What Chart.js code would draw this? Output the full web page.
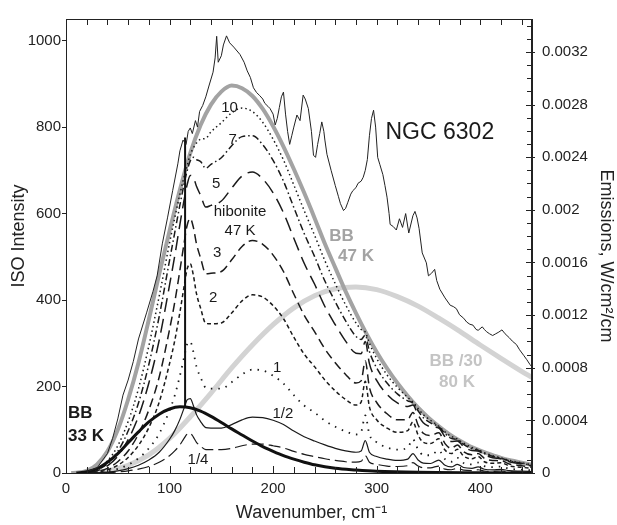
<!DOCTYPE html>
<html>
<head>
<meta charset="utf-8">
<script src="https://cdn.jsdelivr.net/npm/chart.js@4.4.0/dist/chart.umd.min.js"></script>
<style>
  html, body { margin: 0; padding: 0; background: #fff; }
  #wrap { width: 617px; height: 525px; }
</style>
</head>
<body>
<div id="wrap"><canvas id="chart" width="617" height="525"></canvas></div>
<script>
// ------------------------------
// Data
// ------------------------------
// NGC 6302 ISO spectrum (thin noisy line)
const ngcWave = [
  20, 30, 40, 45, 50, 55, 60, 65, 70, 78,
  84, 88, 93, 98, 103, 108, 110, 113, 116, 118,
  120, 122, 125, 127, 129, 132, 135, 138, 142, 144,
  145.5, 147, 150, 152, 155, 158, 162, 168, 172, 175,
  178, 181, 184, 187, 190, 192, 195, 197, 200, 202,
  204, 206, 208, 210, 212, 214, 216, 218, 220, 223,
  226, 229, 231, 234, 237, 239, 241, 243, 245, 247,
  249, 250, 252, 256, 260, 263, 265, 268, 270, 272,
  275, 277, 280, 282, 285, 287, 289, 291, 293, 295,
  297, 299, 301, 303, 306, 308, 310, 312, 313, 316,
  319, 322, 325, 328, 331, 335, 337, 339, 341, 344,
  348, 350, 353, 356, 358, 361, 366, 371, 374, 377,
  380, 384, 387, 390, 393, 396, 398, 402, 404, 406,
  409, 412, 415, 418, 421, 424, 428, 431, 435, 438,
  442, 445, 448, 450
];
const ngcFlux = [
  3, 12, 45, 80, 125, 180, 215, 258, 310, 372,
  420, 456, 530, 590, 653, 715, 745, 770, 760, 790,
  798, 785, 815, 800, 836, 850, 870, 895, 927, 960,
  1010, 950, 965, 990, 1011, 995, 985, 968, 950, 930,
  915, 891, 880, 873, 865, 855, 848, 843, 830, 805,
  820, 845, 870, 881, 830, 790, 760, 780, 800, 828,
  815, 874, 865, 843, 790, 735, 730, 760, 785, 812,
  790, 770, 737, 700, 665, 640, 623, 607, 612, 625,
  645, 653, 660, 670, 675, 684, 700, 725, 780, 820,
  839, 800, 730, 714, 690, 665, 638, 600, 575, 570,
  562, 588, 568, 600, 555, 595, 605, 590, 565, 509,
  486, 456, 462, 471, 445, 425, 405, 388, 385, 380,
  366, 358, 349, 344, 342, 332, 330, 338, 332, 327,
  322, 318, 322, 326, 331, 322, 313, 305, 297, 285,
  272, 262, 251, 245
];

// vertical step in the spectrum near 115 cm-1
const stepWave = [115, 115];
const stepFlux = [152, 776];

// blackbody curves
const bb47Wave = [5, 10, 20, 30, 40, 50, 60, 70, 80, 90, 100, 110, 120, 130, 140, 150, 160, 170, 180, 190,
  200, 210, 220, 230, 240, 250, 260, 270, 280, 290, 300, 310, 320, 330, 340, 350, 360, 370, 380, 390,
  400, 410, 420, 430, 440, 450];
const bb47Flux = [0, 0.5, 5, 20, 50, 100, 170, 255, 355, 460, 560, 655, 740, 805, 852, 882, 896, 890, 872, 842,
  802, 755, 703, 648, 590, 530, 475, 420, 370, 323, 280, 242, 208, 178, 151, 128, 108, 90, 75, 62,
  52, 43, 35, 29, 24, 19];

const bb80Wave = [20, 40, 60, 80, 100, 120, 140, 160, 180, 200, 220, 240, 260, 280, 300, 320, 340, 360, 380, 400, 420, 440, 450];
const bb80Flux = [0, 5, 18, 42, 80, 130, 185, 243, 296, 343, 382, 410, 426, 430, 424, 408, 386, 358, 328, 296, 265, 235, 221];

const bb33Wave = [10, 20, 30, 40, 50, 60, 70, 80, 90, 100, 110, 120, 130, 140, 150, 160, 170, 180, 190, 200,
  210, 220, 230, 240, 260, 280, 300, 340, 400, 450];
const bb33Flux = [0, 3, 10, 25, 45, 70, 95, 118, 136, 148, 153, 151, 143, 131, 117, 102, 88, 74, 61, 50,
  40, 32, 25, 19, 11, 7, 4, 1.5, 0.5, 0];

// hibonite 47 K models, one grid for all of them
const hibWave = [
  20, 30, 40, 50, 60, 70, 80, 90, 100,
  105, 110, 114, 117, 120, 123, 126, 130, 135, 140,
  150, 160, 170, 180, 190, 200, 210, 220, 230, 240,
  250, 260, 270, 280, 285, 289, 293, 300, 310, 320,
  330, 335, 340, 345, 352, 360, 366, 372, 378, 384,
  392, 398, 404, 412, 420, 428, 440, 450
];
const hibQuarter = [
  0.05, 0.3, 1, 2.5, 5, 9, 15, 25, 40,
  51, 65, 80, 90, 92, 83, 71, 62, 54, 54,
  54, 57, 63, 67, 67, 63, 58, 50, 43, 38,
  33, 29, 26, 25, 27, 40, 25, 20, 16, 15,
  17, 24, 16, 12, 12, 16, 9, 7.5, 11, 6.7,
  5.7, 7.5, 4.6, 3.9, 4.6, 2.9, 2.3, 1.8
];
const hibHalf = [
  0.1, 0.6, 2, 4.9, 10, 18, 30, 48, 78,
  98, 124, 150, 169, 172, 156, 135, 119, 105, 104,
  104, 112, 123, 129, 128, 122, 112, 97, 84, 74,
  65, 57, 51, 48, 51, 75, 48, 38, 32, 29,
  32, 45, 30, 23, 22, 30, 18, 14, 20, 12.7,
  10.9, 14, 8.7, 7.4, 8.5, 5.4, 4.3, 3.4
];
const hib1 = [
  0.2, 1.2, 3.8, 9.5, 19, 34, 57, 91, 145,
  179, 225, 267, 298, 304, 280, 246, 221, 197, 195,
  195, 210, 228, 239, 237, 225, 207, 180, 156, 140,
  121, 107, 96, 89, 95, 133, 89, 71, 59, 54,
  59, 78, 54, 42, 41, 52, 32, 26, 35, 23,
  20, 24, 16, 13.5, 15, 9.9, 7.9, 6.3
];
const hib2 = [
  0.4, 2.3, 7.4, 18, 36, 64, 105, 164, 253,
  306, 372, 431, 472, 484, 457, 415, 381, 346, 345,
  347, 370, 398, 412, 407, 387, 357, 314, 275, 246,
  215, 190, 170, 157, 164, 212, 153, 123, 104, 94,
  98, 118, 88, 71, 68, 79, 53, 45, 55, 39,
  33, 38, 26, 22.6, 23.6, 16.5, 13.2, 10.5
];
const hib3 = [
  0.6, 3.3, 10.7, 26, 51, 90, 146, 222, 332,
  395, 469, 531, 573, 589, 568, 530, 497, 461, 462,
  466, 493, 524, 538, 529, 504, 466, 414, 365, 327,
  287, 255, 228, 208, 213, 259, 198, 163, 137, 123,
  124, 140, 111, 92, 87, 93, 68, 57, 65, 49,
  42, 45, 34, 28.7, 28.5, 21, 16.8, 13.3
];
const hib5 = [
  0.9, 5.2, 16.5, 39, 77, 131, 208, 307, 435,
  502, 575, 631, 667, 688, 684, 663, 642, 615, 619,
  629, 659, 687, 696, 680, 648, 602, 543, 485, 437,
  385, 343, 305, 277, 276, 304, 253, 214, 182, 162,
  154, 157, 134, 116, 107, 104, 84, 73, 74, 61,
  52, 51, 42, 35.5, 32.9, 26, 20.8, 16.4
];
const hib7 = [
  1.2, 6.9, 21.5, 50, 97, 162, 251, 362, 492,
  556, 620, 668, 699, 722, 730, 725, 720, 705, 714,
  729, 757, 778, 780, 759, 723, 675, 614, 554, 501,
  444, 396, 352, 316, 309, 319, 281, 243, 208, 183,
  167, 162, 144, 128, 116, 107, 91, 80, 77, 66,
  56, 53, 45, 38.5, 34.3, 28, 22.5, 17.8
];
const hib10 = [
  1.6, 9, 27.5, 63, 119, 195, 294, 409, 532,
  590, 645, 685, 711, 736, 752, 763, 772, 774, 789,
  810, 833, 844, 836, 811, 772, 724, 666, 607, 550,
  491, 438, 389, 347, 332, 326, 300, 265, 227, 198,
  175, 164, 149, 135, 122, 108, 95, 85, 78, 69,
  59, 54, 47, 40, 34.9, 29.5, 23.6, 18.7
];

// axes
const xLabelTicks = [0, 100, 200, 300, 400];
const xMinorTicks = [20, 40, 60, 80, 100, 120, 140, 160, 180, 200, 220, 240, 260, 280, 300, 320, 340, 360, 380, 400, 420, 440];
const yLeftTicks = [0, 200, 400, 600, 800, 1000];
const yRightTicks = [0, 0.0004, 0.0008, 0.0012, 0.0016, 0.002, 0.0024, 0.0028, 0.0032];
const yRightLabels = ["0", "0.0004", "0.0008", "0.0012", "0.0016", "0.002", "0.0024", "0.0028", "0.0032"];
const yRightMinor = [0.0001, 0.0002, 0.0003, 0.0005, 0.0006, 0.0007, 0.0009, 0.001, 0.0011, 0.0013, 0.0014, 0.0015,
  0.0017, 0.0018, 0.0019, 0.0021, 0.0022, 0.0023, 0.0025, 0.0026, 0.0027, 0.0029, 0.003, 0.0031, 0.0033, 0.0034];

// ------------------------------
// Text labels inside the plot (data coordinates)
// ------------------------------
const FONT = "'Liberation Sans', Arial, Helvetica, sans-serif";
const notes = [
  { text: "10", x: 158, y: 844 },
  { text: "7", x: 161, y: 771 },
  { text: "5", x: 145, y: 668 },
  { text: "hibonite", x: 168, y: 605 },
  { text: "47 K", x: 168, y: 559 },
  { text: "3", x: 146, y: 509 },
  { text: "2", x: 142, y: 404 },
  { text: "1", x: 204, y: 243 },
  { text: "1/2", x: 209.5, y: 137 },
  { text: "1/4", x: 127.5, y: 30 },
  { text: "NGC 6302", x: 361, y: 787, size: 23 },
  { text: "BB", x: 266, y: 548, size: 17, bold: true, color: "#a3a3a3" },
  { text: "47 K", x: 280, y: 500, size: 17, bold: true, color: "#a3a3a3" },
  { text: "BB /30", x: 376.6, y: 258, size: 17, bold: true, color: "#c4c4c4" },
  { text: "80 K", x: 377.6, y: 210, size: 17, bold: true, color: "#c4c4c4" },
  { text: "BB", x: 2, y: 137, size: 17, bold: true, align: "left" },
  { text: "33 K", x: 2, y: 85, size: 17, bold: true, align: "left" }
];

// ------------------------------
// Plugin: frame, inward ticks, labels
// ------------------------------
const frameAndNotes = {
  id: "frameAndNotes",
  afterDatasetsDraw(chart) {
    const { ctx, chartArea: a, scales } = chart;
    const x = scales.x, y = scales.y, y2 = scales.y2;
    ctx.save();
    ctx.strokeStyle = "#222";
    ctx.lineWidth = 1;
    ctx.strokeRect(a.left + 0.5, a.top + 0.5, a.right - a.left - 1, a.bottom - a.top);
    ctx.beginPath();
    xMinorTicks.forEach(v => {
      const px = Math.round(x.getPixelForValue(v)) + 0.5;
      const len = v % 100 === 0 ? 7 : 6;
      ctx.moveTo(px, a.bottom); ctx.lineTo(px, a.bottom - len);
      ctx.moveTo(px, a.top); ctx.lineTo(px, a.top + 6);
    });
    yRightMinor.forEach(v => {
      const py = Math.round(y2.getPixelForValue(v)) + 0.5;
      ctx.moveTo(a.right, py); ctx.lineTo(a.right - 5, py);
    });
    yRightTicks.forEach(v => {
      const py = Math.round(y2.getPixelForValue(v)) + 0.5;
      ctx.moveTo(a.right - 6, py); ctx.lineTo(a.right + 3, py);
    });
    ctx.stroke();

    notes.forEach(n => {
      ctx.font = (n.bold ? "bold " : "") + (n.size || 15) + "px " + FONT;
      ctx.fillStyle = n.color || "#1a1a1a";
      ctx.textAlign = n.align || "center";
      ctx.textBaseline = "middle";
      ctx.fillText(n.text, x.getPixelForValue(n.x), y.getPixelForValue(n.y));
    });
    ctx.restore();
  }
};

// ------------------------------
// Datasets
// ------------------------------
const toPoints = (xs, ys) => xs.map((v, i) => ({ x: v, y: ys[i] }));

function series(label, xs, ys, color, width, dash, smooth) {
  return {
    label,
    data: toPoints(xs, ys),
    borderColor: color,
    borderWidth: width,
    borderDash: dash,
    pointRadius: 0,
    fill: false,
    tension: 0,
    cubicInterpolationMode: smooth ? "monotone" : "default"
  };
}

const ink = "#1a1a1a";
const datasets = [
  series("NGC 6302", ngcWave, ngcFlux, "#222", 1, [], false),
  series("step", stepWave, stepFlux, "#111", 2, [], false),
  series("BB 33 K", bb33Wave, bb33Flux, "#111", 3, [], true),
  series("hibonite 10", hibWave, hib10, ink, 1.5, [1.5, 3], true),
  series("hibonite 7", hibWave, hib7, ink, 1.5, [7, 3, 1.5, 3], true),
  series("hibonite 5", hibWave, hib5, ink, 1.5, [14, 7], true),
  series("hibonite 3", hibWave, hib3, ink, 1.5, [9, 5], true),
  series("hibonite 2", hibWave, hib2, ink, 1.5, [4, 3], true),
  series("hibonite 1", hibWave, hib1, ink, 1.8, [1.5, 6], true),
  series("hibonite 1/2", hibWave, hibHalf, ink, 1.2, [], true),
  series("hibonite 1/4", hibWave, hibQuarter, ink, 1.2, [12, 5], true),
  series("BB 47 K", bb47Wave, bb47Flux, "#a3a3a3", 4, [], true),
  series("BB/30 80 K", bb80Wave, bb80Flux, "#d3d3d3", 5, [], true)
];

const tickFont = { family: FONT, size: 15 };
const titleFont = { family: FONT, size: 18 };

new Chart(document.getElementById("chart"), {
  type: "line",
  data: { datasets },
  options: {
    responsive: false,
    animation: false,
    layout: { padding: { top: 13, left: 0, right: 0, bottom: 0 } },
    plugins: { legend: { display: false }, tooltip: { enabled: false } },
    scales: {
      x: {
        type: "linear", min: 0, max: 450, position: "bottom",
        afterFit: s => { s.height = 52; },
        afterBuildTicks: s => { s.ticks = xLabelTicks.map(v => ({ value: v })); },
        ticks: { font: tickFont, color: "#222", padding: 7, maxRotation: 0, callback: v => String(v) },
        grid: { drawOnChartArea: false, drawTicks: false },
        border: { color: "#222", width: 1 },
        // leading spaces nudge the centred title right, as in the reference
        title: { display: true, text: "     Wavenumber, cm\u207B\u00B9", font: titleFont, color: "#222", padding: { top: 0, bottom: 1 } }
      },
      y: {
        type: "linear", min: 0, max: 1050, position: "left",
        afterFit: s => { s.width = 66; },
        afterBuildTicks: s => { s.ticks = yLeftTicks.map(v => ({ value: v })); },
        ticks: { font: tickFont, color: "#222", padding: 1, callback: v => String(v) },
        grid: { drawOnChartArea: false, drawTicks: true, tickLength: 4, color: "#222" },
        border: { color: "#222", width: 1 },
        title: { display: true, text: "    ISO Intensity", font: titleFont, color: "#222", padding: { top: 8, bottom: 0 } }
      },
      y2: {
        type: "linear", min: 0, max: 0.00345, position: "right",
        afterFit: s => { s.width = 85; },
        afterBuildTicks: s => { s.ticks = yRightTicks.map(v => ({ value: v })); },
        ticks: { font: tickFont, color: "#222", padding: 10, callback: v => yRightLabels[yRightTicks.indexOf(v)] },
        grid: { drawOnChartArea: false, drawTicks: false },
        border: { color: "#222", width: 1 },
        title: { display: true, text: "    Emissions, W/cm\u00B2/cm", font: titleFont, color: "#222", padding: { top: 0, bottom: 0 } }
      }
    }
  },
  plugins: [frameAndNotes]
});
</script>
</body>
</html>
